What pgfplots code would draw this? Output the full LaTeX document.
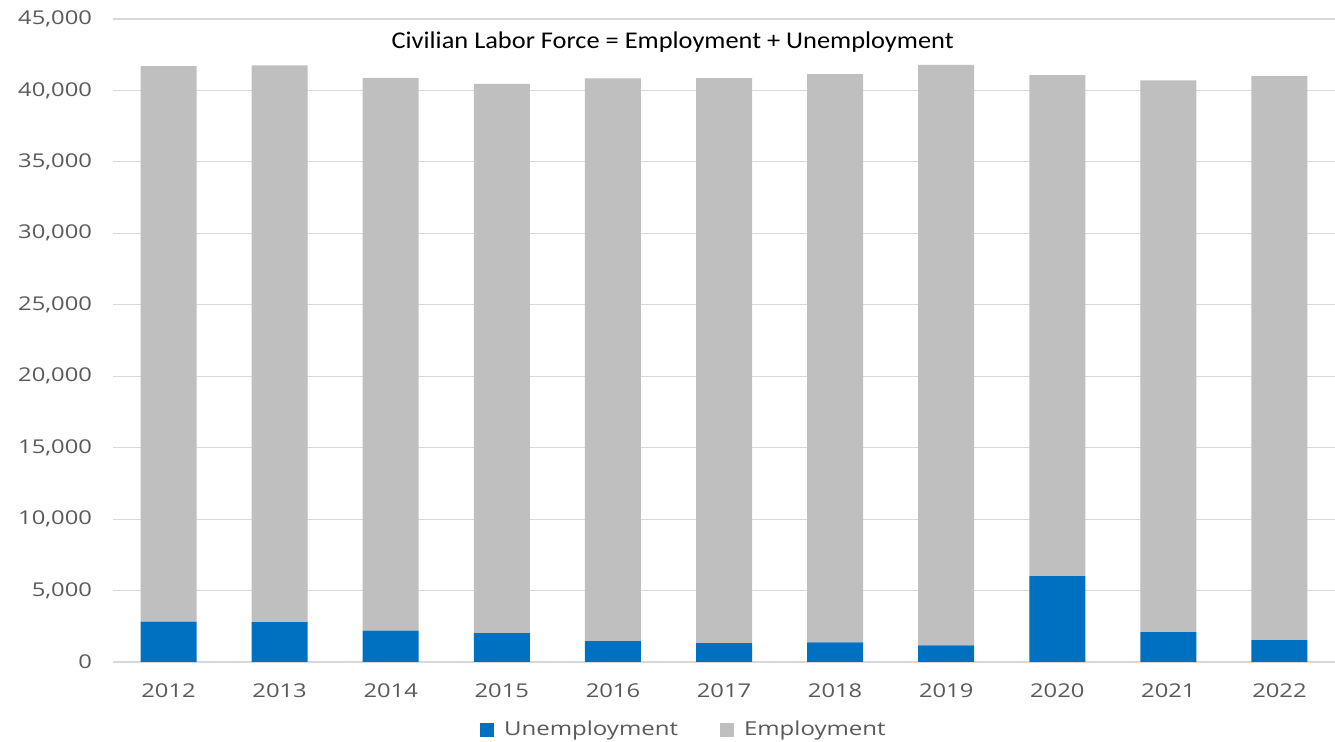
\documentclass[border=0pt]{standalone}
\usepackage{pgfplots}
\pgfplotsset{compat=1.18}
\usepackage{fontspec}
\setmainfont{Open Sans}
\newfontfamily\tickfont[FakeStretch=1.25]{Open Sans}
\newfontfamily\titlefont[FakeStretch=1.1]{Carlito}
\definecolor{unemp}{HTML}{0070C0}
\definecolor{emp}{HTML}{BFBFBF}
\definecolor{txt}{HTML}{595959}
\definecolor{grd}{HTML}{D9D9D9}
\begin{document}
\begin{tikzpicture}
\useasboundingbox (0,0) rectangle (667.5pt,371pt);
\begin{axis}[
    at={(56.5pt,40pt)},
    anchor=south west,
    scale only axis,
    width=611pt,
    height=321.5pt,
    ybar stacked,
    bar width=28pt,
    xmin=-0.5, xmax=10.5,
    ymin=0, ymax=45000,
    ytick={0,5000,...,45000},
    xtick={0,...,10},
    xticklabels={2012,2013,2014,2015,2016,2017,2018,2019,2020,2021,2022},
    scaled y ticks=false,
    /pgf/number format/.cd, 1000 sep={,}, assume math mode=true,
    /pgfplots/.cd,
    major tick length=0pt,
    ymajorgrids,
    grid style={grd, line width=0.6pt},
    axis line style={draw=none},
    tick label style={txt, font=\tickfont\fontsize{9.5}{11}\selectfont},
    yticklabel style={xshift=-7pt},
    xticklabel style={yshift=-7.5pt},
    legend columns=2,
    legend style={at={(0.468,-0.106)}, anchor=center, draw=none,
        font=\tickfont\fontsize{9.6}{11}\selectfont, text=txt,
        /tikz/every odd column/.append style={column sep=3pt},
        /tikz/every even column/.append style={column sep=19pt}},
    legend image code/.code={\fill[#1] (0pt,-3.5pt) rectangle (7pt,3.5pt);},
]
% Unemployment
\addplot[fill=unemp, draw=none] coordinates {
    (0,2820) (1,2790) (2,2190) (3,2020) (4,1460) (5,1320)
    (6,1370) (7,1160) (8,6010) (9,2090) (10,1530)
};
% Employment
\addplot[fill=emp, draw=none] coordinates {
    (0,38880) (1,38960) (2,38690) (3,38440) (4,39380) (5,39540)
    (6,39770) (7,40630) (8,35060) (9,38610) (10,39470)
};
\legend{Unemployment, Employment}
\node[font=\titlefont\fontsize{12}{14}\selectfont, text=black] at (axis description cs:0.458,0.964) {Civilian Labor Force = Employment + Unemployment};
\end{axis}
\end{tikzpicture}
\end{document}
